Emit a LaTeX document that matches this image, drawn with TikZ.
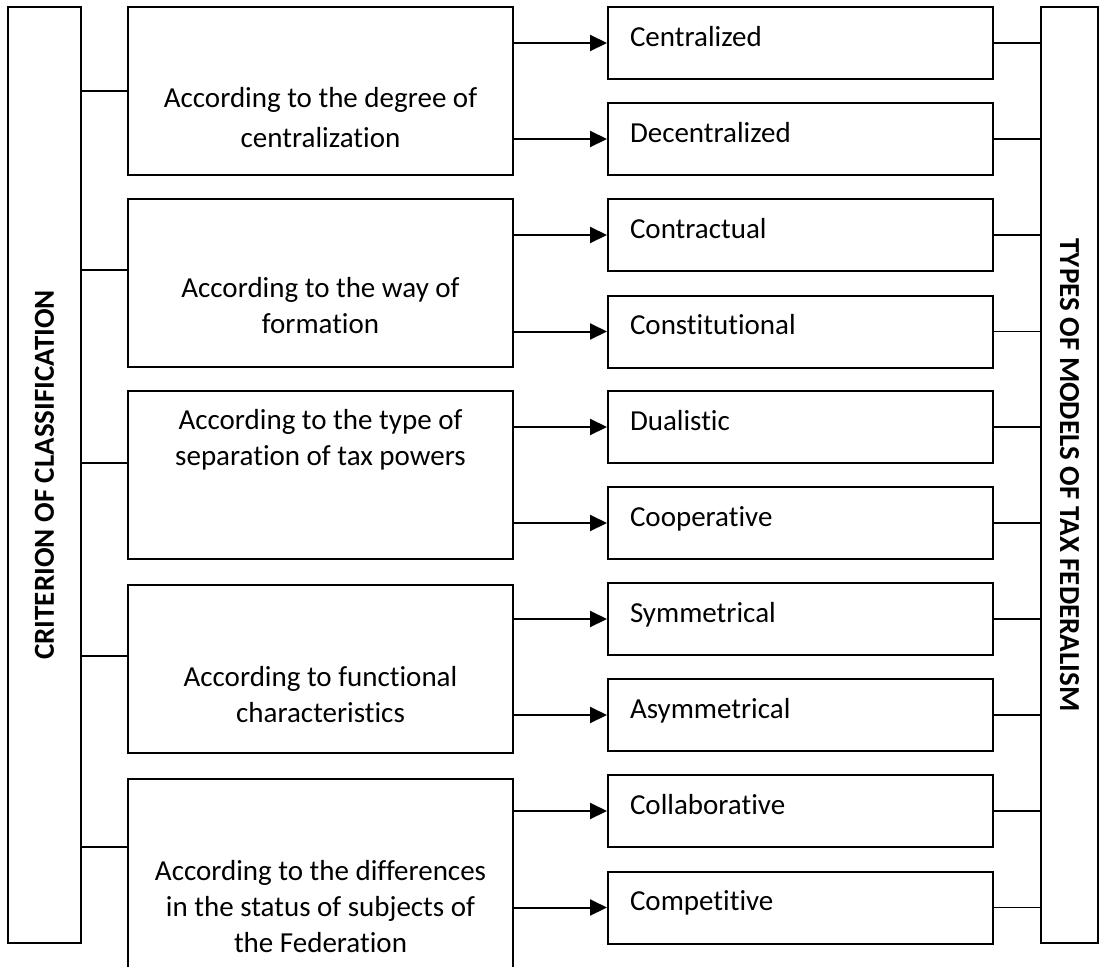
\documentclass[tikz,border=0pt]{standalone}
\usepackage{fontspec}
\setmainfont{Carlito}[Ligatures=CommonOff]
\usetikzlibrary{arrows.meta, positioning}

\begin{document}
\begin{tikzpicture}[x=1pt, y=-1pt,
  every node/.style = {font=\fontsize{29}{36}\selectfont},
  sidebox/.style = {draw, line width=2pt, inner sep=0pt, minimum height=936pt},
  midbox/.style = {draw, line width=2pt, inner sep=0pt, minimum width=385pt},
  typebox/.style = {draw, line width=2pt, minimum height=72pt, inner ysep=0pt, inner xsep=22pt,
    text width=341pt, align=left, text height=20pt, text depth=14pt},
  midtext/.style = {align=center, inner sep=0pt},
  link/.style = {line width=1.4pt},
  arr/.style = {line width=2pt, -{Triangle[length=17pt, width=16pt]}}]
\useasboundingbox (0,0) rectangle (1099,966);

\node[sidebox, minimum width=73pt] (crit) at (44.5,475) {\rotatebox{90}{\bfseries CRITERION OF CLASSIFICATION}};
\node[sidebox, minimum width=57pt] (types) at (1069.5,475) {\rotatebox{-90}{\bfseries TYPES OF MODELS OF TAX FEDERALISM}};

\node[midbox, minimum height=168pt] (m1) at (320.5,91) {};
\node[midbox, minimum height=168pt] (m2) at (320.5,283) {};
\node[midbox, minimum height=168pt] (m3) at (320.5,475) {};
\node[midbox, minimum height=168pt] (m4) at (320.5,669) {};
\node[midbox, minimum height=221pt] (m5) at (320.5,889.5) {};

\node[midtext] (t1) at (320.5,118) {According to the degree of\\[4pt]centralization};
\node[midtext] (t2) at (320.5,306) {According to the way of\\formation};
\node[midtext] (t3) at (320.5,440) {According to the type of\\separation of tax powers};
\node[midtext] (t4) at (320.5,695) {According to functional\\characteristics};
\node[midtext] (t5) at (320.5,907) {According to the differences\\in the status of subjects of\\the Federation};

\node[typebox] (r1) at (800.5,43) {Centralized};
\node[typebox] (r2) at (800.5,139) {Decentralized};
\node[typebox] (r3) at (800.5,235) {Contractual};
\node[typebox] (r4) at (800.5,331.5) {Constitutional};
\node[typebox] (r5) at (800.5,427) {Dualistic};
\node[typebox] (r6) at (800.5,523) {Cooperative};
\node[typebox] (r7) at (800.5,619) {Symmetrical};
\node[typebox] (r8) at (800.5,715) {Asymmetrical};
\node[typebox] (r9) at (800.5,811) {Collaborative};
\node[typebox] (r10) at (800.5,907.5) {Competitive};

\coordinate (c1) at (m1.west);
\coordinate (c2) at ([yshift=13pt]m2.west);
\coordinate (c3) at ([yshift=12pt]m3.west);
\coordinate (c4) at ([yshift=13pt]m4.west);
\coordinate (c5) at ([yshift=42.5pt]m5.west);
\draw[link] (crit.east |- c1) -- (c1);
\draw[link] (crit.east |- c2) -- (c2);
\draw[link] (crit.east |- c3) -- (c3);
\draw[link] (crit.east |- c4) -- (c4);
\draw[link] (crit.east |- c5) -- (c5);

\draw[arr] (m1.east |- r1.west) -- (r1.west);
\draw[arr] (m1.east |- r2.west) -- (r2.west);
\draw[arr] (m2.east |- r3.west) -- (r3.west);
\draw[arr] (m2.east |- r4.west) -- (r4.west);
\draw[arr] (m3.east |- r5.west) -- (r5.west);
\draw[arr] (m3.east |- r6.west) -- (r6.west);
\draw[arr] (m4.east |- r7.west) -- (r7.west);
\draw[arr] (m4.east |- r8.west) -- (r8.west);
\draw[arr] (m5.east |- r9.west) -- (r9.west);
\draw[arr] (m5.east |- r10.west) -- (r10.west);

\draw[link] (r1.east) -- (r1.east -| types.west);
\draw[link] (r2.east) -- (r2.east -| types.west);
\draw[link] (r3.east) -- (r3.east -| types.west);
\draw[link] (r4.east) -- (r4.east -| types.west);
\draw[link] (r5.east) -- (r5.east -| types.west);
\draw[link] (r6.east) -- (r6.east -| types.west);
\draw[link] (r7.east) -- (r7.east -| types.west);
\draw[link] (r8.east) -- (r8.east -| types.west);
\draw[link] (r9.east) -- (r9.east -| types.west);
\draw[link] (r10.east) -- (r10.east -| types.west);
\end{tikzpicture}
\end{document}
